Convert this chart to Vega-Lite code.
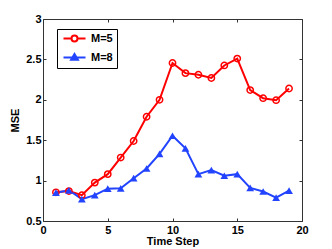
{
  "$schema": "https://vega.github.io/schema/vega-lite/v6.json",
  "width": 259,
  "height": 202,
  "autosize": "none",
  "padding": {"left": 43, "top": 19, "right": 30, "bottom": 28},
  "background": "white",
  "config": {
    "view": {"stroke": null},
    "font": "Liberation Sans",
    "axis": {
      "grid": false,
      "domainColor": "#333333",
      "tickColor": "#333333",
      "tickSize": -3,
      "labelFont": "Liberation Sans",
      "labelFontWeight": "bold",
      "labelFontSize": 11,
      "labelColor": "black",
      "titleFont": "Liberation Sans",
      "titleFontWeight": "bold",
      "titleFontSize": 11,
      "titleColor": "black"
    }
  },
  "data": {
    "values": [
      {"t": 1, "series": "M=5", "mse": 0.855},
      {"t": 2, "series": "M=5", "mse": 0.87},
      {"t": 3, "series": "M=5", "mse": 0.82},
      {"t": 4, "series": "M=5", "mse": 0.975},
      {"t": 5, "series": "M=5", "mse": 1.08},
      {"t": 6, "series": "M=5", "mse": 1.285},
      {"t": 7, "series": "M=5", "mse": 1.49},
      {"t": 8, "series": "M=5", "mse": 1.79},
      {"t": 9, "series": "M=5", "mse": 2.0},
      {"t": 10, "series": "M=5", "mse": 2.455},
      {"t": 11, "series": "M=5", "mse": 2.33},
      {"t": 12, "series": "M=5", "mse": 2.31},
      {"t": 13, "series": "M=5", "mse": 2.27},
      {"t": 14, "series": "M=5", "mse": 2.425},
      {"t": 15, "series": "M=5", "mse": 2.51},
      {"t": 16, "series": "M=5", "mse": 2.12},
      {"t": 17, "series": "M=5", "mse": 2.02},
      {"t": 18, "series": "M=5", "mse": 1.995},
      {"t": 19, "series": "M=5", "mse": 2.14},
      {"t": 1, "series": "M=8", "mse": 0.85},
      {"t": 2, "series": "M=8", "mse": 0.88},
      {"t": 3, "series": "M=8", "mse": 0.77},
      {"t": 4, "series": "M=8", "mse": 0.82},
      {"t": 5, "series": "M=8", "mse": 0.9},
      {"t": 6, "series": "M=8", "mse": 0.905},
      {"t": 7, "series": "M=8", "mse": 1.03},
      {"t": 8, "series": "M=8", "mse": 1.15},
      {"t": 9, "series": "M=8", "mse": 1.33},
      {"t": 10, "series": "M=8", "mse": 1.555},
      {"t": 11, "series": "M=8", "mse": 1.4},
      {"t": 12, "series": "M=8", "mse": 1.08},
      {"t": 13, "series": "M=8", "mse": 1.13},
      {"t": 14, "series": "M=8", "mse": 1.06},
      {"t": 15, "series": "M=8", "mse": 1.08},
      {"t": 16, "series": "M=8", "mse": 0.91},
      {"t": 17, "series": "M=8", "mse": 0.865},
      {"t": 18, "series": "M=8", "mse": 0.79},
      {"t": 19, "series": "M=8", "mse": 0.875}
    ]
  },
  "layer": [
    {
      "mark": {"type": "line", "strokeWidth": 2},
      "encoding": {
        "x": {"field": "t", "type": "quantitative", "scale": {"domain": [0, 20], "nice": false, "zero": false}, "axis": {"orient": "bottom", "title": "Time Step", "values": [0, 5, 10, 15, 20], "labelPadding": 6, "titlePadding": 0, "labelFlush": false}},
        "y": {"field": "mse", "type": "quantitative", "scale": {"domain": [0.5, 3], "nice": false, "zero": false}, "axis": {"orient": "left", "title": "MSE", "values": [0.5, 1, 1.5, 2, 2.5, 3], "format": "~g", "labelPadding": 5, "titlePadding": 5, "labelFlush": false}},
        "color": {
          "field": "series", "type": "nominal",
          "scale": {"domain": ["M=5", "M=8"], "range": ["#ff0000", "#2244ff"]},
          "legend": {
            "orient": "none", "legendX": 14, "legendY": 10,
            "title": null,
            "strokeColor": "black", "fillColor": "white",
            "padding": 4,
            "symbolSize": 64,
            "symbolOffset": 8,
            "symbolStrokeWidth": 2,
            "labelOffset": 11,
            "labelFont": "Liberation Sans",
            "labelFontWeight": "bold",
            "labelFontSize": 11,
            "labelColor": "black",
            "rowPadding": 3,
            "encode": {
              "symbols": {
                "update": {
                  "shape": {"signal": "datum.value === 'M=5' ? 'M-2.75,0H-0.75M0.75,0H2.75M-0.75,0A0.75,0.75,0,1,1,0.75,0A0.75,0.75,0,1,1,-0.75,0' : 'M-2.75,0H2.75M0,-0.9L0.85,0.55L-0.85,0.55Z'"},
                  "fill": {"signal": "datum.value === 'M=5' ? 'transparent' : '#2244ff'"},
                  "stroke": {"signal": "datum.value === 'M=5' ? '#ff0000' : '#2244ff'"},
                  "strokeWidth": {"value": 2}
                }
              }
            }
          }
        }
      }
    },
    {
      "transform": [{"filter": "datum.series === 'M=5'"}],
      "mark": {"type": "point", "shape": "circle", "filled": false, "size": 40, "strokeWidth": 1.5, "color": "#ff0000", "opacity": 1},
      "encoding": {
        "x": {"field": "t", "type": "quantitative", "axis": {"orient": "top", "labels": false, "title": null, "values": [0, 5, 10, 15, 20]}},
        "y": {"field": "mse", "type": "quantitative", "axis": {"orient": "right", "labels": false, "title": null, "values": [0.5, 1, 1.5, 2, 2.5, 3]}}
      }
    },
    {
      "transform": [{"filter": "datum.series === 'M=8'"}],
      "mark": {"type": "point", "shape": "triangle-up", "filled": true, "size": 60, "color": "#2244ff", "opacity": 1},
      "encoding": {
        "x": {"field": "t", "type": "quantitative", "axis": null},
        "y": {"field": "mse", "type": "quantitative", "axis": null}
      }
    }
  ],
  "resolve": {"axis": {"x": "independent", "y": "independent"}}
}
